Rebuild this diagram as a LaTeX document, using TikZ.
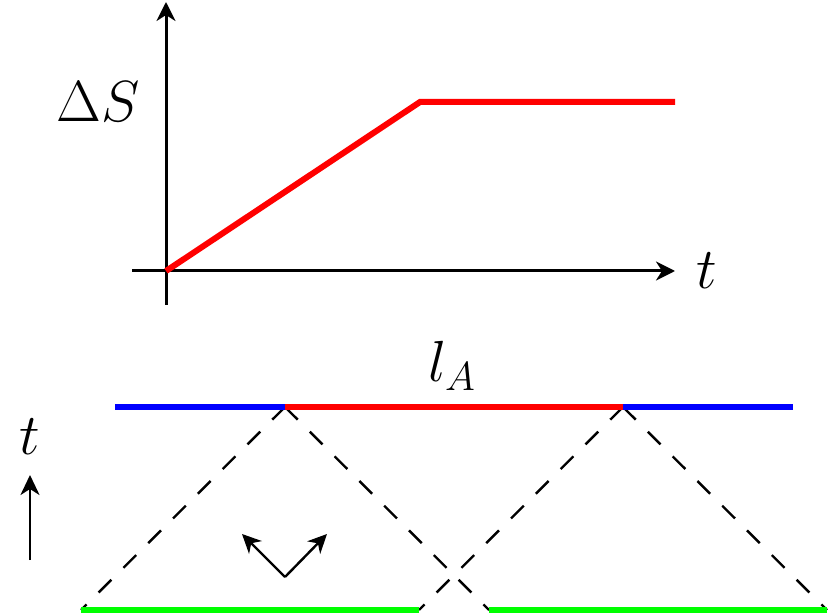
\RequirePackage{fix-cm}
\documentclass[tikz,border=0pt]{standalone}
\usetikzlibrary{arrows.meta}
\begin{document}
\begin{tikzpicture}[x=0.5pt,y=-0.5pt,
  every node/.style={font=\fontsize{29}{34}\selectfont, inner sep=0pt},
  axisline/.style={line width=1.5pt, -{Stealth[length=9.5pt,width=9.5pt,inset=3pt]}},
  rise/.style={line width=3pt, red, line join=miter},
  bluel/.style={line width=3.2pt, blue},
  redl/.style={line width=3.2pt, red},
  greenl/.style={line width=3.2pt, green},
  lightcone/.style={line width=1.2pt, dash pattern=on 9pt off 8.5pt},
  smallarr/.style={line width=1.2pt, -{Stealth[length=9.5pt,width=9pt,inset=3pt]}},
  timearr/.style={line width=1.3pt, -{Stealth[length=10pt,width=9.5pt,inset=3pt]}}]
\useasboundingbox (0,0) rectangle (830,614);
% top plot
\coordinate (O) at (166,271);
\coordinate (yb) at (166,305);
\coordinate (yt) at (166,2);
\coordinate (xl) at (132,271);
\coordinate (xr) at (675,271);
\coordinate (K) at (420,102);
\coordinate (E) at (675,102);
\draw[axisline] (yb) -- (yt);
\draw[axisline] (xl) -- (xr);
\draw[rise] (O) -- (K) -- (E);
\node (dS) at (98,102) {$\Delta S$};
\node (tx) at (707,271) {$t$};
% bottom
\coordinate (B1) at (115,407);
\coordinate (P1) at (285,407);
\coordinate (P2) at (623,407);
\coordinate (B2) at (793,407);
\coordinate (G1) at (81,610);
\coordinate (G2) at (419,610);
\coordinate (G3) at (489,610);
\coordinate (G4) at (827,610);
\draw[lightcone] (P1) -- (G1);
\draw[lightcone] (P1) -- (G3);
\draw[lightcone] (P2) -- (G2);
\draw[lightcone] (P2) -- (G4);
\draw[bluel] (B1) -- (P1);
\draw[bluel] (P2) -- (B2);
\draw[redl] (P1) -- (P2);
\draw[greenl] (G1) -- (G2);
\draw[greenl] (G3) -- (G4);
\node (lA) at (452,366) {$l_A$};
% vee arrows
\coordinate (V) at (285,577);
\coordinate (VL) at (242,534);
\coordinate (VR) at (327,534);
\draw[smallarr] (V) -- (VL);
\draw[smallarr] (V) -- (VR);
% time arrow
\coordinate (TA) at (30,560);
\coordinate (TB) at (30,475);
\draw[timearr] (TA) -- (TB);
\node (tl) at (30,437) {$t$};
\end{tikzpicture}
\end{document}
